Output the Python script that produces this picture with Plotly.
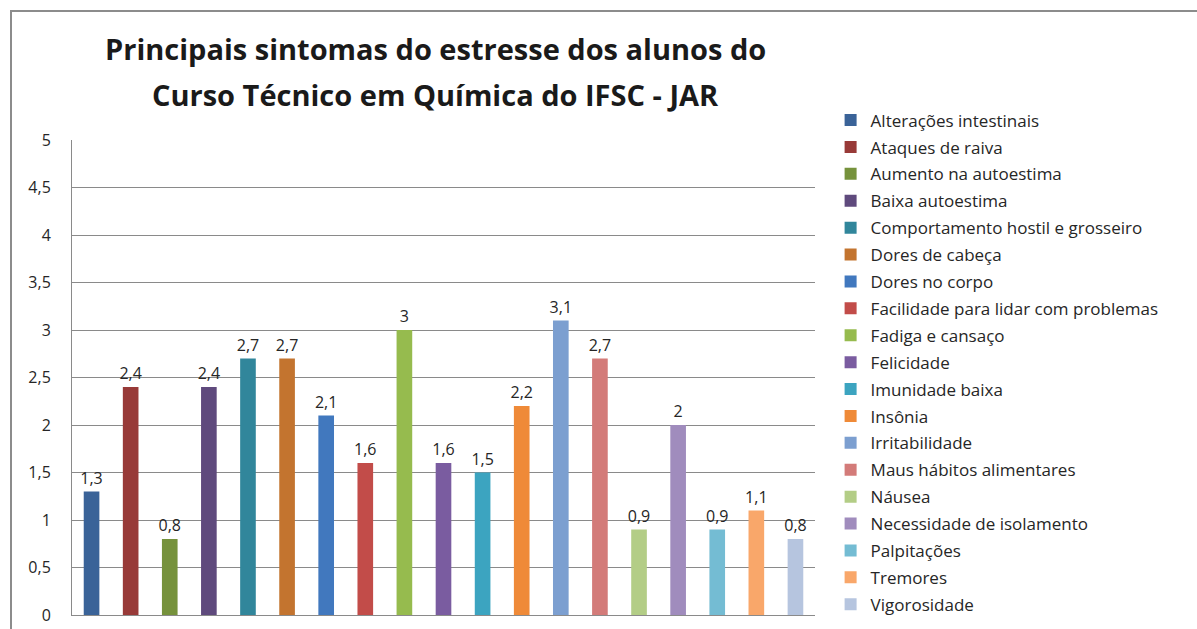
import plotly.graph_objects as go

# sintomas e médias
sintomas = [
    "Alterações intestinais", "Ataques de raiva", "Aumento na autoestima",
    "Baixa autoestima", "Comportamento hostil e grosseiro", "Dores de cabeça",
    "Dores no corpo", "Facilidade para lidar com problemas", "Fadiga e cansaço",
    "Felicidade", "Imunidade baixa", "Insônia", "Irritabilidade",
    "Maus hábitos alimentares", "Náusea", "Necessidade de isolamento",
    "Palpitações", "Tremores", "Vigorosidade",
]
valores = [1.3, 2.4, 0.8, 2.4, 2.7, 2.7, 2.1, 1.6, 3.0, 1.6,
           1.5, 2.2, 3.1, 2.7, 0.9, 2.0, 0.9, 1.1, 0.8]
cores = [
    "#3a6398", "#983a38", "#76923c", "#5f4a7d", "#31869b", "#c3742f",
    "#4178be", "#c24c49", "#96bb4e", "#7a5ca0", "#3ca4c0", "#ef8a38",
    "#7c9fd0", "#d37b79", "#b3cd86", "#a08cbd", "#74bcd3", "#f9a76a",
    "#b6c5df",
]
y_ticks = [i * 0.5 for i in range(11)]
titulo = ["Principais sintomas do estresse dos alunos do",
          "Curso Técnico em Química do IFSC - JAR"]

fig = go.Figure()
for nome, v, c in zip(sintomas, valores, cores):
    fig.add_trace(go.Bar(
        x=[""], y=[v], name=nome, legendgroup=nome,
        marker=dict(color=c, line=dict(width=0)),
        texttemplate="%{y}", textposition="outside", constraintext="none",
        textfont=dict(size=16, color="#262626"), cliponaxis=False,
    ))

fig.update_layout(
    width=1197, height=629,
    paper_bgcolor="white", plot_bgcolor="white",
    margin=dict(l=72, r=382, t=140, b=14, autoexpand=False),
    separators=",.",
    barmode="group", bargap=0.0, bargroupgap=0.6,
    font=dict(family="Open Sans, sans-serif", color="#262626"),
    legend=dict(
        x=1.021, y=1.079, xanchor="left", yanchor="top",
        font=dict(size=17, color="#262626"),
        tracegroupgap=1.8, traceorder="grouped", maxheight=620,
        bgcolor="rgba(0,0,0,0)",
    ),
    showlegend=True,
)
# título em duas linhas
for linha, ypix in zip(titulo, [48, 95]):
    fig.add_annotation(
        text=linha, xref="paper", yref="paper",
        x=(435 - 72) / 743, y=(615 - ypix) / 475,
        xanchor="center", yanchor="middle", showarrow=False,
        font=dict(size=29, color="#1a1a1a", family="Open Sans, sans-serif", weight="bold"),
    )
fig.update_yaxes(
    range=[0, 5], tickvals=y_ticks, showgrid=True, gridcolor="#8a8a8a", gridwidth=1,
    showline=True, linecolor="#8a8a8a", ticks="", tickfont=dict(size=16, color="#262626"),
    ticklabelstandoff=17, zeroline=False,
)
fig.update_xaxes(showticklabels=False, showline=True, linecolor="#8a8a8a", ticks="")

# moldura do gráfico
fig.add_shape(type="rect", xref="paper", yref="paper",
              x0=(11 - 72) / 743, x1=1.6, y0=-0.2, y1=(615 - 11) / 475,
              line=dict(color="#8c8c8c", width=2), layer="below")

fig.write_html("out.html", config={"displayModeBar": False},
               post_script="document.body.style.margin = '0px';")
